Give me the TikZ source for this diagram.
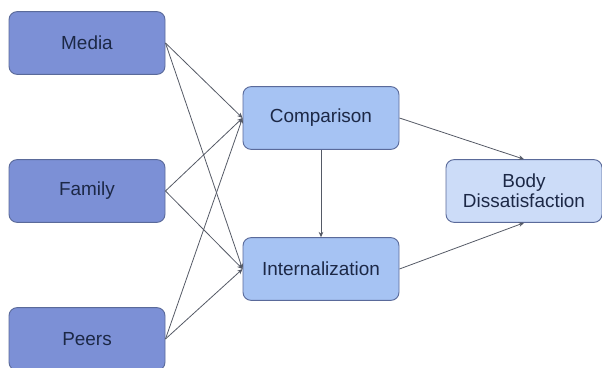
\documentclass[tikz,border=0pt]{standalone}
\usepackage{fontspec}
\setmainfont{Liberation Sans}
\usepackage{xcolor}
\usepackage{tikz}
\usetikzlibrary{arrows.meta}

\definecolor{sourcefill}{HTML}{7C90D6}
\definecolor{midfill}{HTML}{A6C3F3}
\definecolor{outfill}{HTML}{CCDCF8}
\definecolor{boxline}{HTML}{5A6A9A}
\definecolor{boxtext}{HTML}{1C2846}
\definecolor{linkgray}{HTML}{555A66}

\tikzset{
  factor/.style={draw=boxline, line width=0.7pt, rounded corners=6pt,
    minimum width=117pt, minimum height=47pt, align=center,
    text=boxtext, font=\fontsize{14.2}{15}\selectfont},
  source/.style={factor, fill=sourcefill},
  mediator/.style={factor, fill=midfill},
  outcome/.style={factor, fill=outfill},
  link/.style={draw=linkgray, line width=0.6pt,
    -{Stealth[length=4pt, width=3.5pt]}}
}

\begin{document}
\begin{tikzpicture}[x=0.75pt, y=-0.75pt]
    \useasboundingbox (0,0) rectangle (602,367);
    \begin{scope}
      \clip (0,0) rectangle (602,367);
      % source boxes
      \node[source] (media) at (87,43) {Media};
      \node[source] (family) at (87,191) {Family};
      \node[source] (peers) at (87,339) {Peers};
    \end{scope}
    % mediators and outcome
    \node[mediator] (comparison) at (321,118) {Comparison};
    \node[mediator] (internal) at (321,269) {Internalization};
    \node[outcome] (body) at (524,191) {Body\\Dissatisfaction};

    % paths
    \foreach \src in {media, family, peers} {
      \draw[link] (\src.east) -- (comparison.west);
      \draw[link] (\src.east) -- (internal.west);
    }
    \draw[link] (comparison.south) -- (internal.north);
    \draw[link] (comparison.east) -- (body.north);
    \draw[link] (internal.east) -- (body.south);
  \end{tikzpicture}
\end{document}
